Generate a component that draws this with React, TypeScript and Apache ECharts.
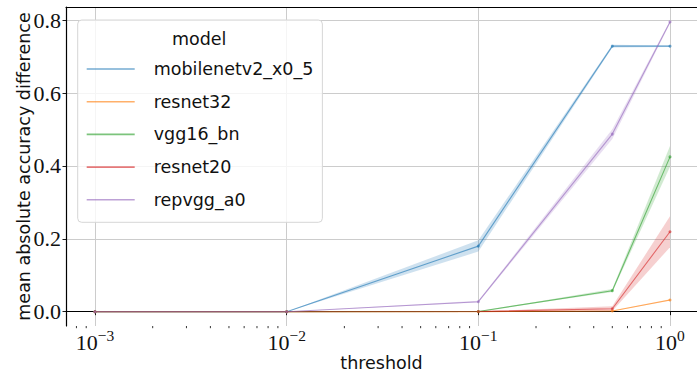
import React, { useEffect, useRef } from "react";
import * as echarts from "echarts";

// ---- data ----
const thresholds = [0.001, 0.01, 0.1, 0.5, 1.0];
const models = ["mobilenetv2_x0_5", "resnet32", "vgg16_bn", "resnet20", "repvgg_a0"];
const colors = ["#1f77b4", "#ff7f0e", "#2ca02c", "#d62728", "#9467bd"];

const mobilenetMean = [0, 0, 0.18, 0.729, 0.729];
const mobilenetLow = [0, 0, 0.165, 0.725, 0.727];
const mobilenetHigh = [0, 0, 0.196, 0.733, 0.731];

const resnet32Mean = [0, 0, 0, 0.002, 0.032];
const resnet32Low = [0, 0, 0, 0.001, 0.03];
const resnet32High = [0, 0, 0, 0.003, 0.034];

const vgg16Mean = [0, 0, 0.0005, 0.0577, 0.425];
const vgg16Low = [0, 0, 0, 0.054, 0.398];
const vgg16High = [0, 0, 0.001, 0.062, 0.455];

const resnet20Mean = [0, 0, 0.0005, 0.008, 0.2195];
const resnet20Low = [0, 0, 0, 0.002, 0.177];
const resnet20High = [0, 0, 0.001, 0.015, 0.262];

const repvggMean = [0, 0, 0.0274, 0.4875, 0.7956];
const repvggLow = [0, 0, 0.025, 0.474, 0.792];
const repvggHigh = [0, 0, 0.03, 0.501, 0.799];

const means = [mobilenetMean, resnet32Mean, vgg16Mean, resnet20Mean, repvggMean];
const lows = [mobilenetLow, resnet32Low, vgg16Low, resnet20Low, repvggLow];
const highs = [mobilenetHigh, resnet32High, vgg16High, resnet20High, repvggHigh];

const xTickValues = [0.001, 0.01, 0.1, 1];
const yTickValues = [0, 0.2, 0.4, 0.6, 0.8];
const xMinorTicks = [
  0.0008, 0.0009,
  0.002, 0.003, 0.004, 0.005, 0.006, 0.007, 0.008, 0.009,
  0.02, 0.03, 0.04, 0.05, 0.06, 0.07, 0.08, 0.09,
  0.2, 0.3, 0.4, 0.5, 0.6, 0.7, 0.8, 0.9,
];

const X_MIN = Math.pow(10, -3.1513);
const X_MAX = Math.pow(10, 0.1409);
const Y_MIN = -0.0393;
const Y_MAX = 0.8365;

const SANS = "DejaVu Sans";
const SERIF = "Liberation Serif";

export default function App() {
  const ref = useRef<HTMLDivElement>(null);
  useEffect(() => {
    if (!ref.current) return;
    const chart = echarts.init(ref.current, undefined, { renderer: "svg" });

    const series: any[] = [];
    models.forEach((m, i) => {
      const c = colors[i];
      // confidence band: one quadrilateral per segment between consecutive thresholds
      const segs: number[][] = [];
      for (let j = 0; j < thresholds.length - 1; j++) {
        segs.push([thresholds[j], lows[i][j], highs[i][j], thresholds[j + 1], lows[i][j + 1], highs[i][j + 1]]);
      }
      series.push({
        type: "custom",
        name: m + " ci",
        silent: true,
        z: 2,
        data: segs,
        encode: { x: [0, 3], y: [1, 2, 4, 5] },
        renderItem: (params: any, api: any) => {
          const a = api.coord([api.value(0), api.value(1)]);
          const b = api.coord([api.value(0), api.value(2)]);
          const cc = api.coord([api.value(3), api.value(5)]);
          const d = api.coord([api.value(3), api.value(4)]);
          return {
            type: "polygon",
            shape: { points: [a, b, cc, d] },
            style: { fill: c, opacity: 0.22, stroke: "none" },
          };
        },
      });
      series.push({
        type: "line",
        name: m,
        data: thresholds.map((t, j) => [t, means[i][j]]),
        symbol: "circle",
        symbolSize: 3,
        lineStyle: { width: 1.1, color: c, opacity: 0.62 },
        itemStyle: { color: c, opacity: 0.62 },
        silent: true,
        z: 3,
      });
    });

    series.push({
      type: "custom",
      name: "minor ticks",
      clip: false,
      silent: true,
      data: xMinorTicks.map((v) => [v, 0]),
      encode: { x: 0, y: 1 },
      renderItem: (params: any, api: any) => {
        const p = api.coord([api.value(0), 0]);
        const cs = params.coordSys;
        const b = cs.y + cs.height;
        return {
          type: "line",
          shape: { x1: p[0], y1: b, x2: p[0], y2: b + 2.2 },
          style: { stroke: "#000", lineWidth: 0.8 },
        };
      },
    });

    const option: any = {
      animation: false,
      grid: { left: 66, right: 0, top: 7, bottom: 45, containLabel: false, outerBoundsMode: "none" },
      xAxis: [
        {
          type: "log",
          logBase: 10,
          min: X_MIN,
          max: X_MAX,
          name: "threshold",
          nameLocation: "middle",
          nameGap: 30.5,
          nameMoveOverlap: false,
          nameTextStyle: { fontFamily: SANS, fontSize: 17.5, lineHeight: 12, color: "#111" },
          axisLine: { show: true, lineStyle: { color: "#000", width: 1.2 } },
          axisTick: {
            show: true,
            length: 3.5,
            lineStyle: { color: "#000", width: 0.9 },
            customValues: xTickValues,
          },
          axisLabel: {
            customValues: xTickValues,
            margin: 1,
            formatter: (v: number) => {
              const e = Math.round(Math.log10(v));
              const s = e < 0 ? "\u2212" + -e : String(e);
              return "{b|10}{s|" + s + "}";
            },
            rich: {
              b: { fontFamily: SERIF, fontSize: 22, lineHeight: 26, color: "#111", verticalAlign: "bottom" },
              s: { fontFamily: SERIF, fontSize: 15.5, lineHeight: 15, color: "#111", verticalAlign: "top" },
            },
          },
          splitLine: { show: true, lineStyle: { color: "#cccccc", width: 1 } },
        },
        {
          type: "log",
          logBase: 10,
          min: X_MIN,
          max: X_MAX,
          position: "top",
          axisLine: { show: true, lineStyle: { color: "#000", width: 1.2 } },
          axisTick: { show: false },
          axisLabel: { show: false },
          splitLine: { show: false },
        },
      ],
      yAxis: {
        type: "value",
        min: Y_MIN,
        max: Y_MAX,
        name: "mean absolute accuracy difference",
        nameLocation: "middle",
        nameGap: 33,
        nameMoveOverlap: false,
        nameTextStyle: { fontFamily: SANS, fontSize: 17.5, color: "#111" },
        axisLine: { show: true, lineStyle: { color: "#000", width: 1.2 } },
        axisTick: {
          show: true,
          length: 3.5,
          lineStyle: { color: "#000", width: 0.9 },
          customValues: yTickValues,
        },
        axisLabel: {
          customValues: yTickValues,
          margin: 5,
          fontFamily: SERIF,
          fontSize: 22,
          color: "#111",
          formatter: (v: number) => v.toFixed(1),
        },
        splitLine: { show: true, lineStyle: { color: "#cccccc", width: 1 } },
      },
      legend: {
        data: models,
        left: 77.7,
        top: 20,
        orient: "vertical",
        icon: "rect",
        itemWidth: 48,
        itemHeight: 1.6,
        itemGap: 12.7,
        padding: [39, 9, 12.5, 9],
        backgroundColor: "rgba(255,255,255,0.8)",
        borderColor: "#d6d6d6",
        borderWidth: 1,
        borderRadius: 4,
        selectedMode: false,
        textStyle: {
          fontFamily: SANS,
          fontSize: 17.5,
          color: "#111",
          lineHeight: 20,
          padding: [0, 0, 0, 14],
        },
        z: 10,
      },
      graphic: [
        {
          type: "text",
          x: 199.2,
          y: 39,
          z: 100,
          style: {
            text: "model",
            fontFamily: SANS,
            fontSize: 17.5,
            fill: "#111",
            align: "center",
            verticalAlign: "middle",
          },
        },
      ],
      series,
    };
    chart.setOption(option);
    return () => chart.dispose();
  }, []);
  return <div ref={ref} style={{ width: 697, height: 371, position: "absolute", left: 0, top: 0 }} />;
}
